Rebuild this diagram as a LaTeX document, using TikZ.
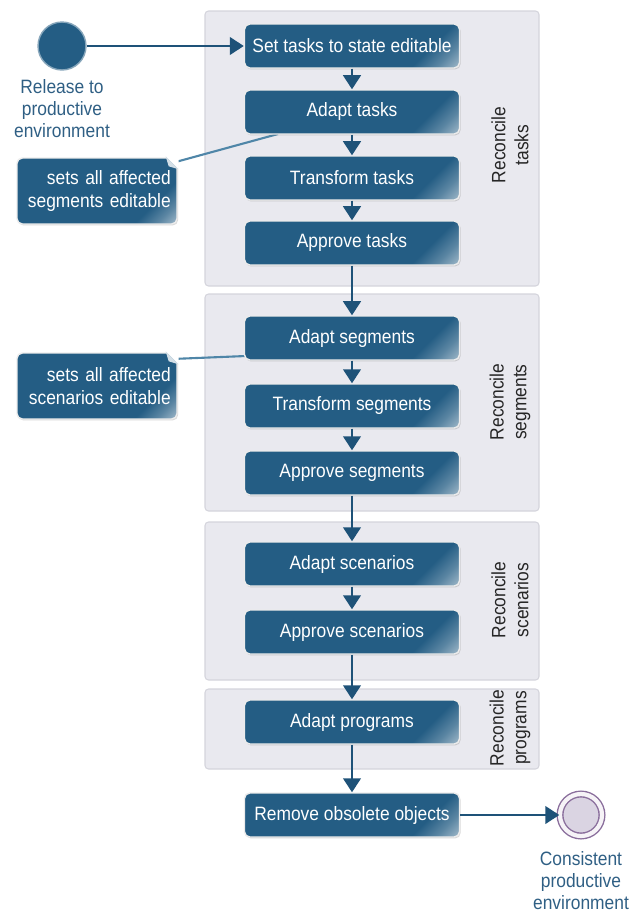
\documentclass[tikz,border=0pt]{standalone}
\usepackage{fontspec}
\setmainfont[FakeStretch=0.9]{Liberation Sans}
\usetikzlibrary{arrows.meta,positioning,shadows,calc}

\definecolor{taskblue}{HTML}{245D84}
\definecolor{flowblue}{HTML}{1E5278}
\definecolor{lanegray}{HTML}{E9E9EF}
\definecolor{laneline}{HTML}{D4D4DC}
\definecolor{notelink}{HTML}{4F86A8}
\definecolor{labelblue}{HTML}{2F5F84}
\definecolor{endpurple}{HTML}{8A6E9C}
\definecolor{endfill}{HTML}{DAD4E2}

\pgfdeclareverticalshading{taskshade}{100bp}{color(0bp)=(taskblue!40!white); color(15bp)=(taskblue!45!white); color(21bp)=(taskblue!75!white); color(28bp)=(taskblue); color(100bp)=(taskblue)}

\tikzset{
  lane/.style={fill=lanegray, draw=laneline, line width=0.6pt, rounded corners=2pt},
  lanelabel/.style={rotate=90, align=center, text=black!85, font=\fontsize{11}{13}\selectfont},
  task/.style={draw=white!85!gray, line width=0.8pt, rounded corners=3pt, shading=taskshade, shading angle=45, text=white, minimum width=4.3cm, minimum height=0.88cm, font=\fontsize{11}{13}\selectfont, drop shadow={shadow xshift=0.6pt, shadow yshift=-0.8pt, opacity=0.25, fill=black!60}},
  note/.style={task, minimum width=3.2cm, minimum height=1.32cm, text width=2.95cm, align=right, inner xsep=0pt},
  startev/.style={circle, minimum size=0.96cm, fill=taskblue, draw=taskblue!55!white, line width=0.8pt},
  endev/.style={circle, minimum size=0.84cm, fill=endfill, draw=endpurple, line width=0.8pt, double=white!92!endpurple, double distance=2.4pt},
  evlabel/.style={align=center, text=labelblue, font=\fontsize{11}{12.5}\selectfont},
  flow/.style={draw=flowblue, line width=1.5pt, -{Triangle[width=10pt,length=8pt]}},
  notelinkline/.style={draw=notelink, line width=1.2pt}
}

\begin{document}
\begin{tikzpicture}[x=0.02cm, y=-0.02cm]
\useasboundingbox (0,0) rectangle (641,916);

% lanes
\draw [lane] (205,11) rectangle (539,286);
\draw [lane] (205,294) rectangle (539,511);
\draw [lane] (205,522) rectangle (539,680);
\draw [lane] (205,689) rectangle (539,769);

\node [lanelabel] (lanetasks) at (510,145) {Reconcile\\tasks};
\node [lanelabel] (lanesegs) at (510,402) {Reconcile\\segments};
\node [lanelabel] (lanescen) at (510,600) {Reconcile\\scenarios};
\node [lanelabel] (laneprog) at (510,728) {Reconcile\\programs};

% events
\node [startev] (release) at (62,46) {};
\node [evlabel, below=1.5pt of release] (releaselbl) {Release to\\productive\\environment};
\node [endev] (consistent) at (581,815) {};
\node [evlabel, below=5pt of consistent] (consistentlbl) {Consistent\\productive\\environment};

% notes
\coordinate (earsegs) at (172,163);
\coordinate (earscen) at (172,359);
\draw [notelinkline] (earsegs) -- (278,134);
\draw [notelinkline] (earscen) -- (246,356);
\node [note] (notesegs) at (97,191) {sets all affected\\segments editable};
\node [note] (notescen) at (97,386) {sets all affected\\scenarios editable};
\foreach \n in {notesegs,notescen}{
  \fill [white] ($(\n.north east)+(-12,-1)$) -- ($(\n.north east)+(1,-1)$) -- ($(\n.north east)+(1,12)$) -- cycle;
  \fill [taskblue!20!white] ($(\n.north east)+(-12,-1)$) -- ($(\n.north east)+(1,12)$) -- ($(\n.north east)+(-9,9)$) -- cycle;
}

% tasks
\node [task] (settasks) at (352,46) {Set tasks to state editable};
\node [task] (adapttasks) at (352,112) {Adapt tasks};
\node [task] (transtasks) at (352,178) {Transform tasks};
\node [task] (apprtasks) at (352,243) {Approve tasks};
\node [task] (adaptsegs) at (352,338) {Adapt segments};
\node [task] (transsegs) at (352,406) {Transform segments};
\node [task] (apprsegs) at (352,473) {Approve segments};
\node [task] (adaptscen) at (352,564) {Adapt scenarios};
\node [task] (apprscen) at (352,632) {Approve scenarios};
\node [task] (adaptprog) at (352,722) {Adapt programs};
\node [task] (removeobj) at (352,815) {Remove obsolete objects};

% flows
\draw [flow] (release) -- (settasks);
\draw [flow] (settasks) -- (adapttasks);
\draw [flow] (adapttasks) -- (transtasks);
\draw [flow] (transtasks) -- (apprtasks);
\draw [flow] (apprtasks) -- (adaptsegs);
\draw [flow] (adaptsegs) -- (transsegs);
\draw [flow] (transsegs) -- (apprsegs);
\draw [flow] (apprsegs) -- (adaptscen);
\draw [flow] (adaptscen) -- (apprscen);
\draw [flow] (apprscen) -- (adaptprog);
\draw [flow] (adaptprog) -- (removeobj);
\draw [flow] (removeobj) -- (consistent);

\end{tikzpicture}
\end{document}
